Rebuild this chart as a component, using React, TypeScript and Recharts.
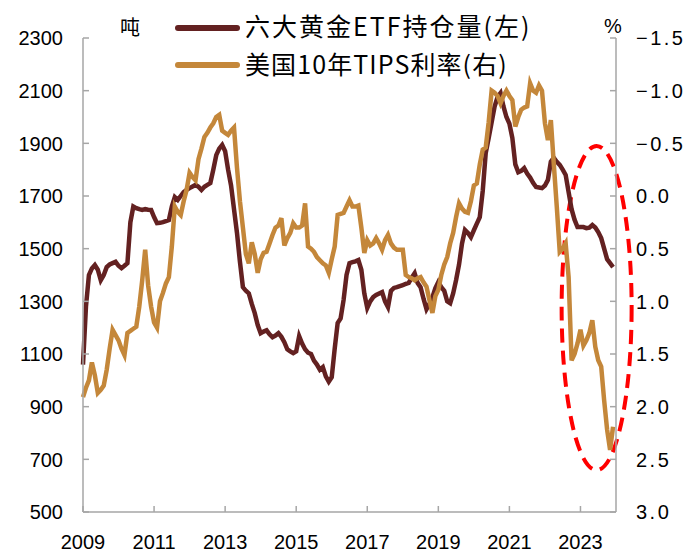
import { LineChart, Line, XAxis, YAxis, Legend, ReferenceArea } from "recharts";

const BROWN = "#632121";
const GOLD = "#C4873A";
const AXIS = "#A6A6A6";
const NUM_FONT = "'Liberation Sans', Arial, sans-serif";
const CJK_FONT = "'Noto Sans CJK SC', 'Noto Sans', sans-serif";

const START_YEAR = 2009;
const yearTicks = [2009, 2011, 2013, 2015, 2017, 2019, 2021, 2023];
const leftTicks = [500, 700, 900, 1100, 1300, 1500, 1700, 1900, 2100, 2300];
const rightTicks = [-1.5, -1.0, -0.5, 0, 0.5, 1.0, 1.5, 2.0, 2.5, 3.0];

// 六大黄金ETF持仓量（吨），月度 2009-01 ~ 2023-12
const etfHoldings = [
  1060, 1280, 1400, 1425, 1438, 1420, 1380, 1400, 1430, 1440, 1445, 1450, // 2009
  1435, 1426, 1435, 1445, 1600, 1660, 1654, 1650, 1647, 1650, 1648, 1647, // 2010
  1620, 1597, 1598, 1601, 1605, 1609, 1660, 1696, 1685, 1700, 1715, 1723, // 2011
  1730, 1736, 1742, 1735, 1723, 1735, 1742, 1749, 1800, 1855, 1880, 1894, // 2012
  1870, 1800, 1740, 1650, 1560, 1450, 1354, 1340, 1330, 1290, 1255, 1210, // 2013
  1179, 1185, 1190, 1175, 1164, 1170, 1179, 1165, 1145, 1118, 1110, 1103, // 2014
  1110, 1168, 1140, 1118, 1105, 1100, 1075, 1060, 1040, 1050, 1015, 995, // 2015
  1012, 1120, 1218, 1235, 1305, 1400, 1445, 1449, 1452, 1457, 1420, 1330, // 2016
  1275, 1300, 1316, 1324, 1330, 1335, 1300, 1278, 1340, 1351, 1354, 1358, // 2017
  1362, 1366, 1370, 1390, 1407, 1370, 1354, 1310, 1270, 1290, 1316, 1350, // 2018
  1373, 1354, 1340, 1300, 1293, 1330, 1381, 1440, 1520, 1571, 1560, 1544, // 2019
  1570, 1595, 1620, 1720, 1863, 1920, 1980, 2040, 2076, 2091, 2040, 2000, // 2020
  1975, 1920, 1820, 1790, 1795, 1806, 1785, 1770, 1750, 1734, 1732, 1730, // 2021
  1740, 1761, 1830, 1845, 1830, 1818, 1800, 1780, 1715, 1650, 1610, 1582, // 2022
  1582, 1582, 1578, 1580, 1590, 1580, 1563, 1540, 1500, 1460, 1445, 1430, // 2023
];

// 美国10年TIPS利率（%），月度 2009-01 ~ 2023-12
const tipsYield = [
  1.91, 1.82, 1.75, 1.58, 1.7, 1.87, 1.84, 1.8, 1.65, 1.45, 1.27, 1.32, // 2009
  1.37, 1.45, 1.51, 1.3, 1.28, 1.26, 1.24, 1.05, 0.8, 0.51, 0.85, 1.05, // 2010
  1.2, 1.25, 1.0, 0.92, 0.83, 0.77, 0.48, 0.1, 0.15, 0.18, 0.05, -0.06, // 2011
  -0.22, -0.18, -0.15, -0.35, -0.45, -0.56, -0.6, -0.65, -0.69, -0.75, -0.77, -0.62, // 2012
  -0.6, -0.58, -0.62, -0.65, -0.27, 0.05, 0.3, 0.55, 0.64, 0.44, 0.55, 0.73, // 2013
  0.6, 0.54, 0.53, 0.45, 0.37, 0.3, 0.28, 0.21, 0.47, 0.4, 0.35, 0.26, // 2014
  0.3, 0.3, 0.28, 0.07, 0.48, 0.5, 0.53, 0.58, 0.61, 0.64, 0.66, 0.73, // 2015
  0.6, 0.48, 0.18, 0.17, 0.16, 0.1, 0.04, 0.1, 0.1, 0.09, 0.3, 0.54, // 2016
  0.42, 0.47, 0.45, 0.4, 0.45, 0.51, 0.42, 0.37, 0.45, 0.49, 0.51, 0.51, // 2017
  0.51, 0.75, 0.77, 0.78, 0.8, 0.78, 0.77, 0.82, 0.86, 0.99, 1.11, 0.95, // 2018
  0.89, 0.75, 0.65, 0.58, 0.45, 0.35, 0.2, 0.07, 0.12, 0.15, 0.16, 0.05, // 2019
  -0.1, -0.12, -0.3, -0.44, -0.46, -0.7, -1.0, -0.98, -0.95, -0.88, -0.95, -1.0, // 2020
  -0.95, -0.91, -0.66, -0.75, -0.82, -0.84, -0.85, -1.07, -1.0, -0.98, -1.05, -1.0, // 2021
  -0.69, -0.53, -0.72, -0.3, 0.1, 0.53, 0.5, 0.45, 0.77, 1.56, 1.5, 1.4, // 2022
  1.27, 1.42, 1.37, 1.3, 1.18, 1.43, 1.56, 1.62, 1.94, 2.22, 2.41, 2.19, // 2023
];

// 红色虚线椭圆标注的范围（年份 / 左轴吨数）
const highlightYears = [2022.47, 2024.44];
const highlightTons = [659, 1890];

const data = etfHoldings.map((v, i) => ({
  t: START_YEAR + i / 12,
  etf: v,
  tips: tipsYield[i],
}));

const fmtRight = (v: number) => (v < 0 ? "\u2212" : "") + Math.abs(v).toFixed(1);

function LeftTick({ x, y, payload }: any) {
  return (
    <g>
      <line x1={x} x2={x + 6} y1={y} y2={y} stroke={AXIS} strokeWidth={1.5} />
      <text x={x - 20} y={y} dy="0.36em" textAnchor="end" fontSize={20} fontFamily={NUM_FONT} fill="#000">
        {payload.value}
      </text>
    </g>
  );
}

function RightTick({ x, y, payload }: any) {
  return (
    <g>
      <line x1={x - 6} x2={x} y1={y} y2={y} stroke={AXIS} strokeWidth={1.5} />
      <text x={x + 20} y={y} dy="0.36em" textAnchor="start" fontSize={20} letterSpacing={2.5} fontFamily={NUM_FONT} fill="#000">
        {fmtRight(payload.value)}
      </text>
    </g>
  );
}

function BottomTick({ x, y, payload }: any) {
  return (
    <g>
      <line x1={x} x2={x} y1={y} y2={y - 6} stroke={AXIS} strokeWidth={1.5} />
      <text x={x} y={y + 37} textAnchor="middle" fontSize={20} fontFamily={NUM_FONT} fill="#000">
        {payload.value}
      </text>
    </g>
  );
}

// 图例每行的字距（第一行文字略宽）
const legendSpacing = [2, 1.1];

function renderLegend(props: any) {
  const items = props.payload || [];
  return (
    <svg width={400} height={95} style={{ overflow: "visible" }}>
      {items.map((it: any, i: number) => (
        <g key={it.value}>
          <line x1={9} x2={68} y1={28 + i * 37} y2={28 + i * 37} stroke={it.color} strokeWidth={6} strokeLinecap="round" />
          <text
            x={76}
            y={36 + i * 38}
            fontSize={25}
            letterSpacing={legendSpacing[i] ?? 1.5}
            fontFamily={CJK_FONT}
            fill="#000"
          >
            {it.value}
          </text>
        </g>
      ))}
    </svg>
  );
}

function Highlight(p: any) {
  return (
    <ellipse
      cx={p.x + p.width / 2}
      cy={p.y + p.height / 2}
      rx={p.width / 2}
      ry={p.height / 2}
      fill="none"
      stroke="#FF0000"
      strokeWidth={4}
      strokeDasharray="14 8"
    />
  );
}

export default function App() {
  return (
    <div style={{ position: "absolute", left: 0, top: 0, width: 700, height: 557, background: "#fff" }}>
      <LineChart width={700} height={557} data={data} margin={{ top: 38, right: 0, bottom: 0, left: 0 }}>
        <XAxis
          dataKey="t"
          type="number"
          domain={[2009, 2024]}
          ticks={yearTicks}
          interval={0}
          height={45}
          stroke={AXIS}
          strokeWidth={1.5}
          tickSize={0}
          tickMargin={0}
          tickLine={false}
          tick={<BottomTick />}
        />
        <YAxis
          yAxisId="left"
          orientation="left"
          width={83}
          domain={[500, 2300]}
          ticks={leftTicks}
          interval={0}
          stroke={AXIS}
          strokeWidth={1.5}
          tickSize={0}
          tickMargin={0}
          tickLine={false}
          tick={<LeftTick />}
          label={{
            content: (p: any) => (
              <text x={p.viewBox.x + p.viewBox.width + 47} y={p.viewBox.y - 3} textAnchor="middle" fontSize={20} fontFamily={CJK_FONT} fill="#000">
                吨
              </text>
            ),
          }}
        />
        <YAxis
          yAxisId="right"
          orientation="right"
          width={84}
          reversed
          domain={[-1.5, 3]}
          ticks={rightTicks}
          interval={0}
          stroke={AXIS}
          strokeWidth={1.5}
          tickSize={0}
          tickMargin={0}
          tickLine={false}
          tick={<RightTick />}
          label={{
            content: (p: any) => (
              <text x={p.viewBox.x - 3} y={p.viewBox.y - 5} textAnchor="middle" fontSize={20} fontFamily={NUM_FONT} fill="#000">
                %
              </text>
            ),
          }}
        />
        <Legend
          layout="vertical"
          align="center"
          verticalAlign="middle"
          content={renderLegend}
          wrapperStyle={{ position: "absolute", top: 0, left: 169, width: 400, height: 95 }}
        />
        <Line
          yAxisId="left"
          type="linear"
          dataKey="etf"
          name="六大黄金ETF持仓量(左)"
          stroke={BROWN}
          strokeWidth={4.5}
          dot={false}
          isAnimationActive={false}
        />
        <Line
          yAxisId="right"
          type="linear"
          dataKey="tips"
          name="美国10年TIPS利率(右)"
          stroke={GOLD}
          strokeWidth={4.5}
          dot={false}
          isAnimationActive={false}
        />
        <ReferenceArea
          yAxisId="left"
          x1={highlightYears[0]}
          x2={highlightYears[1]}
          y1={highlightTons[0]}
          y2={highlightTons[1]}
          ifOverflow="visible"
          shape={<Highlight />}
        />
      </LineChart>
    </div>
  );
}
